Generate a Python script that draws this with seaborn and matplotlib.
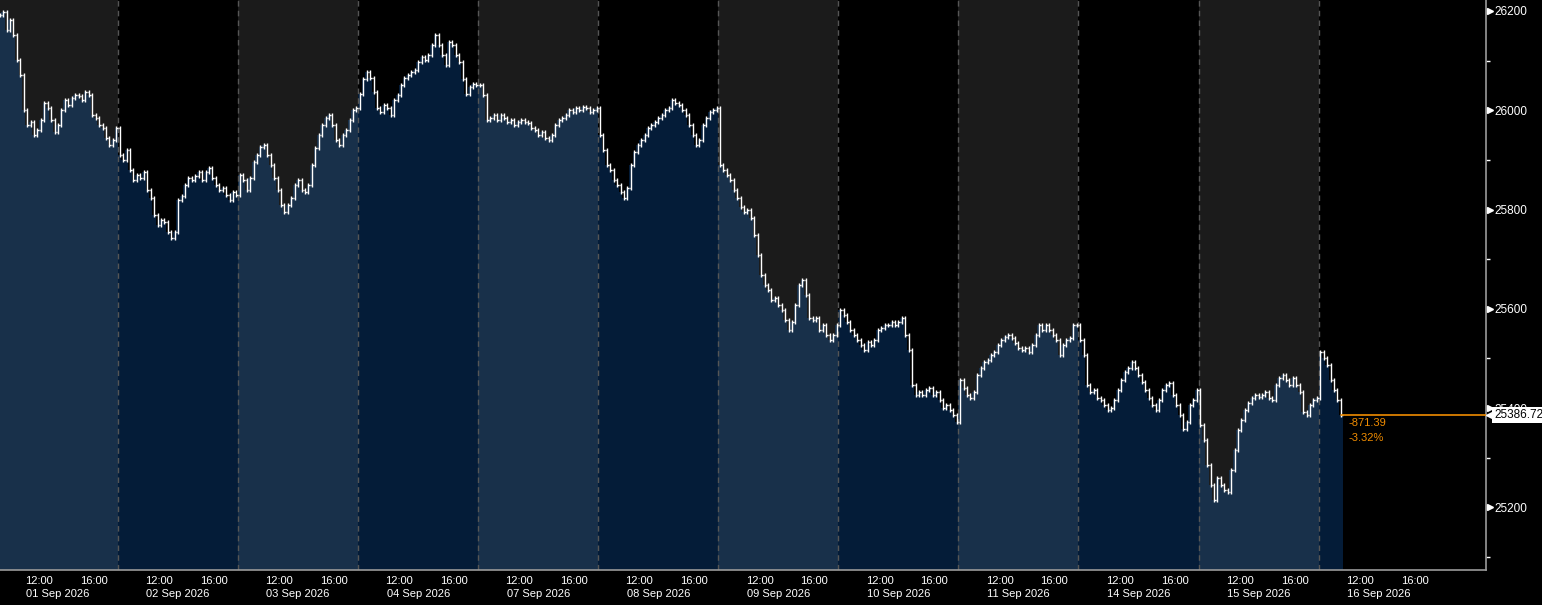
import numpy as np
import pandas as pd
import seaborn as sns
import matplotlib.pyplot as plt
import matplotlib.transforms as mtransforms

# 15-min closes, 09:00 -> 17:45, one list per session
days = ['01 Sep 2026', '02 Sep 2026', '03 Sep 2026', '04 Sep 2026', '07 Sep 2026', '08 Sep 2026',
        '09 Sep 2026', '10 Sep 2026', '11 Sep 2026', '14 Sep 2026', '15 Sep 2026', '16 Sep 2026']
d01 = [26192, 26198, 26162, 26182, 26152, 26101, 26071, 26000, 25970, 25976, 25950, 25960, 25980, 26015, 26005,
       25980, 25956, 25970, 26000, 26021, 26010, 26025, 26031, 26029, 26021, 26037, 26031, 25990, 25984, 25970,
       25964, 25944, 25930, 25940, 25964]
d02 = [25910, 25900, 25920, 25880, 25860, 25870, 25864, 25876, 25839, 25823, 25789, 25769, 25779, 25775, 25755,
       25743, 25755, 25819, 25827, 25849, 25864, 25860, 25868, 25876, 25860, 25876, 25884, 25864, 25849, 25839,
       25843, 25829, 25819, 25835, 25829]
d03 = [25870, 25860, 25839, 25864, 25896, 25910, 25926, 25930, 25910, 25890, 25864, 25839, 25809, 25795, 25809,
       25823, 25849, 25860, 25839, 25835, 25849, 25890, 25924, 25950, 25970, 25984, 25990, 25970, 25940, 25930,
       25950, 25960, 25980, 26000, 26004]
d04 = [26033, 26063, 26077, 26065, 26037, 26005, 25997, 26011, 26005, 25990, 26021, 26031, 26051, 26065, 26071,
       26077, 26081, 26097, 26107, 26101, 26111, 26131, 26151, 26131, 26111, 26091, 26137, 26131, 26111, 26097,
       26063, 26033, 26047, 26053, 26051]
d07 = [26051, 26031, 25980, 25984, 25990, 25980, 25990, 25984, 25976, 25980, 25970, 25976, 25980, 25976, 25974,
       25964, 25960, 25950, 25956, 25944, 25940, 25950, 25970, 25980, 25984, 25990, 26000, 25996, 26004, 26000,
       26006, 26004, 25996, 26000, 26004]
d08 = [25950, 25920, 25890, 25880, 25860, 25849, 25835, 25823, 25843, 25890, 25916, 25930, 25940, 25950, 25964,
       25970, 25976, 25984, 25990, 26000, 26004, 26021, 26015, 26011, 26000, 25990, 25970, 25950, 25930, 25940,
       25970, 25984, 25996, 26000, 26004]
d09 = [25890, 25880, 25870, 25860, 25839, 25823, 25805, 25795, 25799, 25783, 25749, 25709, 25668, 25648, 25638,
       25618, 25622, 25608, 25598, 25578, 25557, 25574, 25608, 25648, 25658, 25628, 25582, 25578, 25582, 25557,
       25568, 25547, 25537, 25547, 25568]
d10 = [25598, 25588, 25574, 25557, 25547, 25537, 25527, 25517, 25533, 25527, 25537, 25557, 25561, 25568, 25568,
       25574, 25568, 25574, 25582, 25547, 25517, 25447, 25427, 25433, 25427, 25437, 25441, 25427, 25433, 25417,
       25401, 25407, 25397, 25387, 25372]
d11 = [25457, 25441, 25427, 25421, 25433, 25467, 25481, 25493, 25497, 25507, 25513, 25527, 25537, 25543, 25547,
       25541, 25531, 25521, 25517, 25521, 25513, 25527, 25547, 25568, 25557, 25568, 25557, 25547, 25537, 25507,
       25527, 25537, 25541, 25568, 25568]
d14 = [25537, 25507, 25447, 25433, 25437, 25421, 25417, 25407, 25397, 25401, 25417, 25437, 25457, 25473, 25481,
       25493, 25481, 25467, 25453, 25437, 25421, 25407, 25397, 25417, 25437, 25447, 25451, 25427, 25407, 25387,
       25357, 25372, 25407, 25417, 25437]
d15 = [25366, 25336, 25286, 25245, 25215, 25259, 25245, 25235, 25231, 25275, 25316, 25356, 25376, 25396, 25411,
       25421, 25427, 25423, 25427, 25433, 25421, 25417, 25447, 25461, 25467, 25457, 25447, 25461, 25447, 25433,
       25393, 25387, 25407, 25417, 25421]
d16 = [25513, 25501, 25487, 25457, 25437, 25417, 25386.72]
sessions = [d01, d02, d03, d04, d07, d08, d09, d10, d11, d14, d15, d16]

last_price = 25386.72
net_chg = '-871.39'
pct_chg = '-3.32%'
y_ticks = [25200, 25400, 25600, 25800, 26000, 26200]
time_labels = ['12:00', '16:00']

SLOTS = 35              # bars per session
label_slots = [12, 28]  # 12:00, 16:00
minor_slots = [4, 20]   # 10:00, 14:00

bg_gray = '#1b1b1b'
fill_light = '#18304a'
fill_dark = '#041c38'
orange = '#f08c00'
axis_col = '#9a9a9a'

sns.set_style('dark', {'axes.facecolor': 'black', 'figure.facecolor': 'black'})
plt.rcParams['font.family'] = ['Liberation Sans', 'DejaVu Sans']

fig = plt.figure(figsize=(15.42, 6.05), dpi=100)
ax = fig.add_axes([0, 35 / 605, 1486 / 1542, 570 / 605])
ax.set_facecolor('black')

rows = []
for k, closes in enumerate(sessions):
    for i, c in enumerate(closes):
        rows.append({'day': k, 'x': k * SLOTS + i + 0.5, 'close': c})
df = pd.DataFrame(rows)
df['open'] = df['close'].shift(1).fillna(df['close'])

ymin, ymax = 25074, 26222
x0, x1 = 0.58, 0.58 + 1486 / 3.43

for k, closes in enumerate(sessions):
    even = k % 2 == 0
    ax.axvspan(k * SLOTS, (k + 1) * SLOTS, color=bg_gray if even else 'black', lw=0, zorder=0)
    edges = k * SLOTS + np.arange(len(closes) + 1)
    vals = list(closes) + [closes[-1]]
    ax.fill_between(edges, vals, ymin, step='post', color=fill_light if even else fill_dark,
                    lw=0, zorder=1)
    if k > 0:
        ax.axvline(k * SLOTS, color='#555555', lw=1, ls=(0, (4, 3)), zorder=2)

# tick bars
lo = df[['open', 'close']].min(axis=1)
hi = df[['open', 'close']].max(axis=1)
ax.vlines(df['x'], lo - 4, hi + 4, color='white', lw=1, zorder=4)
ax.hlines(df['open'], df['x'] - 0.5, df['x'], color='#9a9a9a', lw=1, zorder=3)
ax.hlines(df['close'], df['x'], df['x'] + 0.5, color='white', lw=1, zorder=4)

# last price line
last_x = df['x'].iloc[-1]
sns.lineplot(x=[last_x, x1], y=[last_price, last_price], color=orange, lw=1.2, ax=ax, zorder=5)
ax.text(last_x + 2.3, last_price - 17, net_chg, color=orange, fontsize=8, va='center', ha='left')
ax.text(last_x + 2.3, last_price - 47, pct_chg, color=orange, fontsize=8, va='center', ha='left')

ax.set_xlim(x0, x1)
ax.set_ylim(ymin, ymax)

# y axis on the right
ax.yaxis.tick_right()
ax.set_yticks(y_ticks)
ax.set_yticklabels([str(t) for t in y_ticks])
ax.set_yticks(np.arange(25100, 26300, 200), minor=True)
ax.tick_params(axis='y', which='major', length=0, pad=6, labelsize=8.5, labelcolor='white')
ax.tick_params(axis='y', which='minor', length=3, width=1, color='white', direction='out')
ytr = mtransforms.blended_transform_factory(ax.transAxes, ax.transData)
ax.plot([1.0025] * len(y_ticks), y_ticks, ls='none', marker='>', ms=4, color='white',
        transform=ytr, clip_on=False, zorder=6)

# price box
ax.text(1.0055, last_price, '25386.72', transform=ytr, ha='left', va='center', color='black',
        fontsize=8.5, zorder=10, clip_on=False,
        bbox=dict(boxstyle='square,pad=0.15', fc='white', ec='none'))
ax.plot([1.0022], [last_price], ls='none', marker='<', ms=5, color='white', transform=ytr,
        clip_on=False, zorder=10)

# x axis: day separators, minor ticks, labels
ax.set_xticks([k * SLOTS for k in range(1, len(days))])
ax.set_xticklabels([])
ax.set_xticks([k * SLOTS + s for k in range(len(days)) for s in minor_slots], minor=True)
ax.tick_params(axis='x', which='major', length=22, width=1, color='white', direction='out')
ax.tick_params(axis='x', which='minor', length=2.5, width=1, color='#c0c0c0', direction='out')
xtr = mtransforms.blended_transform_factory(ax.transData, ax.transAxes)
for k, d in enumerate(days):
    for s, lab in zip(label_slots, time_labels):
        ax.text(k * SLOTS + s, -11 / 570, lab, transform=xtr, ha='center', va='center',
                color='white', fontsize=8, clip_on=False)
    ax.text(k * SLOTS + 17.5, -24 / 570, d, transform=xtr, ha='center', va='center',
            color='white', fontsize=8, clip_on=False)

for side in ['left', 'top']:
    ax.spines[side].set_visible(False)
for side in ['bottom', 'right']:
    ax.spines[side].set_visible(True)
    ax.spines[side].set_color(axis_col)
    ax.spines[side].set_linewidth(1.2)
ax.grid(False)
ax.set_xlabel('')
ax.set_ylabel('')

fig.savefig('out.png', dpi=100, facecolor='black')
